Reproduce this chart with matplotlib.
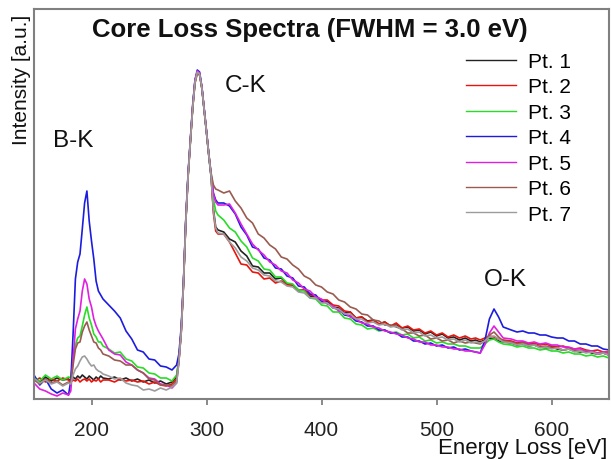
import matplotlib
matplotlib.use("Agg")
import matplotlib.pyplot as plt

plt.rcParams['font.family'] = ['Liberation Sans', 'DejaVu Sans']

# energy grid (eV): finer steps around the B-K, C-K and O-K edges
energy = ([150, 155, 160, 165, 170, 175, 180]
          + list(range(182, 211, 2))
          + list(range(215, 271, 5))
          + list(range(274, 311, 2))
          + list(range(315, 531, 5))
          + [534, 538, 542, 546, 550, 554, 558]
          + list(range(565, 651, 5)))

# intensities (arbitrary units)
pt1 = ([20, 17, 22, 18, 21, 19, 20]
       + [18, 22, 20, 23, 21, 24, 22, 20, 23, 21, 19, 22, 20, 23, 21]
       + [20, 22, 19, 21, 18, 20, 17, 19, 16, 18, 15, 17]
       + [22, 40, 68, 116, 178, 224, 258, 292, 318, 327, 325, 311, 288, 266, 243, 222, 190, 172, 169]
       + [167, 160, 157, 148, 143, 133, 132, 126, 126, 120, 121, 115, 114, 108, 109, 103, 102, 97, 98, 92, 91, 86,
          87, 81, 82, 78, 79, 75, 77, 73, 74, 71, 72, 68, 69, 65, 67, 63, 65, 61, 62, 59, 61, 58]
       + [59, 57, 59, 61, 60, 58, 57]
       + [56, 54, 55, 53, 54, 52, 51, 52, 50, 49, 50, 48, 47, 48, 46, 45, 46, 44])

pt2 = ([18, 21, 17, 20, 18, 21, 19]
       + [17, 19, 18, 20, 17, 19, 20, 18, 20, 17, 19, 18, 20, 17, 19]
       + [19, 17, 20, 18, 19, 17, 18, 15, 17, 14, 13, 15]
       + [20, 38, 66, 114, 176, 222, 257, 291, 316, 326, 324, 310, 289, 267, 244, 223, 186, 168, 165]
       + [165, 157, 146, 135, 134, 127, 126, 120, 121, 116, 118, 114, 114, 109, 109, 104, 103, 99, 99, 94, 93, 88,
          87, 81, 82, 77, 79, 75, 77, 73, 76, 71, 73, 69, 70, 66, 68, 64, 66, 62, 64, 61, 63, 60]
       + [61, 59, 61, 63, 62, 60, 59]
       + [58, 56, 57, 55, 56, 54, 55, 53, 52, 53, 51, 50, 51, 49, 48, 49, 47, 47])

pt3 = ([22, 18, 24, 20, 23, 19, 22]
       + [21, 40, 54, 61, 63, 73, 84, 92, 81, 74, 65, 62, 57, 57, 53]
       + [50, 46, 47, 40, 38, 32, 31, 26, 25, 21, 21, 18]
       + [24, 40, 68, 116, 178, 224, 259, 292, 317, 327, 325, 311, 289, 267, 244, 223, 200, 188, 184]
       + [179, 171, 167, 158, 152, 141, 138, 130, 129, 122, 122, 116, 115, 109, 108, 101, 100, 94, 93, 87, 87, 81,
          80, 75, 74, 70, 71, 68, 69, 66, 67, 64, 65, 61, 62, 58, 59, 56, 57, 55, 55, 53, 53, 51]
       + [51, 51, 55, 59, 60, 57, 55]
       + [54, 52, 53, 51, 51, 49, 50, 48, 48, 46, 47, 45, 45, 43, 44, 42, 43, 41])

pt4 = ([24, 14, 20, 10, 6, 9, 4]
       + [18, 65, 120, 137, 145, 170, 196, 208, 178, 158, 140, 118, 108, 104, 100]
       + [94, 88, 81, 68, 60, 49, 47, 40, 39, 33, 32, 29]
       + [34, 45, 72, 118, 180, 226, 260, 294, 319, 329, 327, 312, 290, 268, 245, 224, 206, 199, 196]
       + [196, 193, 185, 172, 164, 152, 150, 141, 139, 131, 130, 123, 121, 113, 112, 105, 104, 97, 97, 91, 90, 84,
          83, 78, 77, 73, 73, 69, 69, 66, 66, 62, 62, 58, 58, 55, 56, 53, 54, 51, 52, 49, 50, 48]
       + [47, 46, 58, 80, 90, 82, 72]
       + [69, 67, 68, 66, 66, 64, 64, 62, 61, 61, 58, 58, 55, 55, 53, 53, 50, 49])

pt5 = ([16, 10, 8, 5, 3, 6, 4]
       + [8, 40, 70, 80, 88, 108, 120, 115, 100, 92, 80, 73, 68, 64, 60]
       + [49, 45, 44, 37, 34, 29, 26, 21, 20, 15, 14, 11]
       + [16, 38, 68, 117, 179, 225, 260, 293, 319, 328, 326, 312, 290, 268, 245, 224, 205, 197, 194]
       + [194, 195, 186, 175, 165, 155, 149, 144, 137, 134, 128, 126, 119, 116, 110, 108, 102, 100, 95, 93, 88, 86,
          82, 80, 76, 75, 72, 71, 68, 67, 65, 64, 61, 60, 57, 57, 54, 54, 52, 52, 50, 50, 48, 48]
       + [47, 46, 54, 66, 73, 67, 61]
       + [60, 58, 58, 56, 57, 55, 56, 54, 54, 52, 52, 50, 50, 48, 48, 46, 47, 45])

pt6 = ([19, 15, 20, 16, 18, 14, 17]
       + [16, 34, 50, 56, 57, 67, 73, 77, 69, 63, 57, 56, 51, 49, 45]
       + [43, 39, 38, 34, 34, 29, 26, 20, 19, 14, 14, 13]
       + [18, 38, 67, 115, 177, 223, 258, 291, 316, 326, 324, 311, 289, 267, 245, 226, 214, 210, 209]
       + [206, 208, 198, 191, 181, 176, 165, 161, 154, 150, 142, 140, 134, 130, 123, 120, 114, 112, 107, 105, 99, 97,
          92, 90, 85, 84, 79, 78, 74, 74, 72, 70, 66, 66, 63, 64, 60, 61, 58, 59, 56, 58, 56, 57]
       + [56, 55, 58, 64, 67, 62, 58]
       + [57, 55, 56, 54, 54, 52, 53, 51, 51, 49, 50, 48, 48, 47, 47, 45, 46, 44])

pt7 = ([21, 16, 19, 15, 17, 13, 16]
       + [15, 24, 30, 33, 38, 42, 43, 40, 36, 33, 34, 30, 28, 27, 25]
       + [23, 20, 21, 16, 14, 13, 9, 10, 8, 11, 9, 12]
       + [16, 37, 66, 115, 177, 223, 258, 291, 317, 327, 325, 311, 289, 267, 244, 223, 188, 171, 166]
       + [165, 157, 151, 142, 138, 131, 129, 124, 123, 118, 117, 113, 112, 107, 106, 101, 101, 96, 96, 91, 90, 85,
          85, 80, 80, 76, 77, 74, 75, 72, 73, 69, 70, 66, 67, 63, 64, 61, 62, 59, 60, 57, 59, 56]
       + [57, 56, 58, 62, 63, 60, 57]
       + [56, 54, 55, 53, 54, 51, 52, 50, 51, 49, 50, 47, 48, 46, 47, 45, 46, 44])

series = [pt1, pt2, pt3, pt4, pt5, pt6, pt7]
labels = ['Pt. 1', 'Pt. 2', 'Pt. 3', 'Pt. 4', 'Pt. 5', 'Pt. 6', 'Pt. 7']
colors = ['#222222', '#e8140e', '#28dc28', '#1c1ce0', '#e020e0', '#9a5a50', '#9c9c9c']
xticks = [200, 300, 400, 500, 600]

W, H = 611, 460
fig = plt.figure(figsize=(W / 100, H / 100), dpi=100)
ax = fig.add_axes([34 / W, 60 / H, 575 / W, 390 / H])

for y, lab, c in zip(series, labels, colors):
    ax.plot(energy, y, color=c, lw=1.2, label=lab)

ax.set_xlim(150, 650)
ax.set_ylim(0, 390)
ax.set_xticks(xticks)
ax.set_yticks([])
ax.tick_params(axis='x', direction='out', length=4, width=1.2, color='#777777',
               labelsize=15, pad=11, labelcolor='#222222')
for sp in ax.spines.values():
    sp.set_color('#808080')
    sp.set_linewidth(1.5)

# title and edge labels sit inside the plot box
ax.text(390, 370, 'Core Loss Spectra (FWHM = 3.0 eV)', ha='center', va='center',
        fontsize=18.5, fontweight='bold', color='#111111')
ax.text(184, 259, 'B-K', ha='center', va='center', fontsize=17.5, color='#111111')
ax.text(334, 314, 'C-K', ha='center', va='center', fontsize=17.5, color='#111111')
ax.text(560, 120, 'O-K', ha='center', va='center', fontsize=17.5, color='#111111')

leg = ax.legend(loc='upper left', bbox_to_anchor=(466 / W, 1 - 53 / H),
                bbox_transform=fig.transFigure, frameon=False, fontsize=15,
                handlelength=2.4, handletextpad=0.6, labelspacing=0.31,
                borderpad=0, borderaxespad=0)
for line in leg.get_lines():
    line.set_linewidth(1.0)

fig.text(607 / W, 1 - 454 / H, 'Energy Loss [eV]', ha='right', va='baseline',
         fontsize=16, color='#111111')
fig.text(22 / W, 1 - 15 / H, 'Intensity [a.u.]', rotation=90, ha='center', va='top',
         fontsize=15, color='#111111')

fig.savefig('out.png', dpi=100)
